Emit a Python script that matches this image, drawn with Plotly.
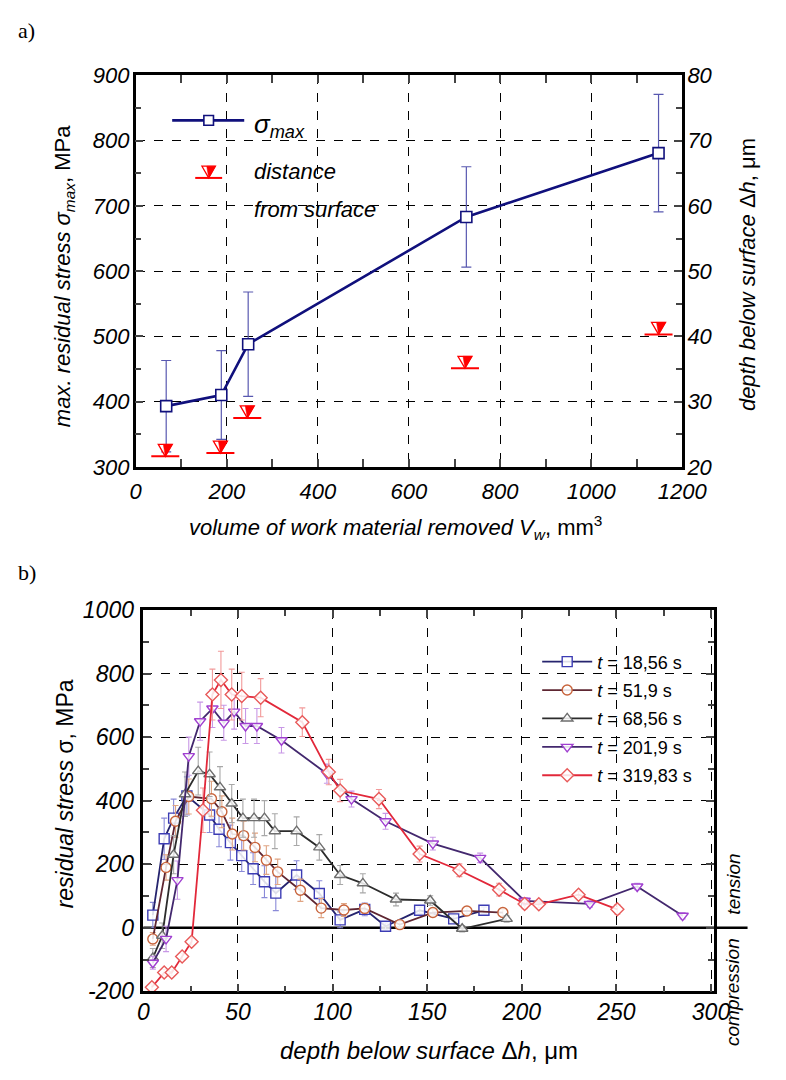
import plotly.graph_objects as go

# ---------------- data : panel a ----------------
vol_removed = [67, 188, 247, 726, 1148]
sigma_max = [393, 410, 488, 683, 781]
sigma_err = [70, 68, 80, 77, 90]
vol_depth = [65, 186, 245, 723, 1148]
depth_max = [21.6, 22.1, 27.5, 35.1, 40.3]
ticks_a_x = [0, 200, 400, 600, 800, 1000, 1200]
ticks_a_y = [300, 400, 500, 600, 700, 800, 900]
ticks_a_y2 = [20, 30, 40, 50, 60, 70, 80]

# ---------------- data : panel b ----------------
labels_b = ["18,56 s", "51,9 s", "68,56 s", "201,9 s", "319,83 s"]
depth_1 = [5, 11, 16, 23, 35, 40, 46, 52, 58, 64, 70, 81, 93, 104, 117, 128, 146, 164, 180]
stress_1 = [40, 280, 345, 415, 355, 310, 268, 227, 186, 145, 109, 166, 108, 25, 58, 5, 55, 28, 55]
err_1 = [40, 65, 60, 60, 55, 55, 55, 50, 50, 50, 55, 45, 40, 25, 20, 10, 10, 10, 10]

depth_2 = [5, 12, 17, 24, 36, 41.5, 47, 53, 59, 65, 71, 83, 94, 106, 117, 135.5, 153, 171, 190]
stress_2 = [-35, 190, 335, 413, 406, 365, 295, 290, 253, 213, 176, 118, 62, 56, 61, 10, 48, 53, 48]
err_2 = [20, 40, 50, 55, 55, 50, 50, 45, 45, 45, 40, 35, 30, 20, 15, 10, 10, 10, 10]

depth_3 = [5, 10, 16, 22, 29, 35, 40.5, 46.7, 52.6, 58.5, 64, 69.5, 81, 93, 104, 116, 133.5, 151.6, 168.5, 192]
stress_3 = [-95, -25, 230, 420, 493, 483, 442, 391, 345, 345, 345, 304, 304, 253, 166, 140, 89, 86, -3, 28]
err_3 = [30, 40, 60, 70, 75, 70, 65, 60, 60, 60, 55, 55, 45, 40, 30, 30, 20, 15, 10, 10]

depth_4 = [5, 12, 18, 24, 30, 36.5, 42.5, 48, 54, 60, 73, 97, 110, 128, 153, 178, 201.5, 236, 261, 285]
stress_4 = [-110, -35, 150, 540, 650, 690, 645, 680, 635, 635, 590, 485, 405, 335, 265, 220, 85, 75, 130, 38]
err_4 = [20, 40, 60, 60, 60, 60, 55, 55, 55, 55, 40, 30, 25, 25, 20, 15, 10, 10, 10, 10]

depth_5 = [4.5, 11, 15, 20.5, 25.5, 31.5, 36.5, 41, 46.7, 52, 62, 84, 98, 104, 124.5, 146, 167, 188, 201.5, 209, 230, 250.5]
stress_5 = [-187, -141, -141, -90, -44, 370, 734, 780, 734, 729, 724, 647, 490, 432, 405, 232, 181, 120, 75, 74, 104, 58]
err_5 = [10, 10, 10, 10, 10, 70, 80, 90, 80, 75, 60, 45, 40, 35, 30, 25, 20, 20, 15, 10, 10, 15]

ticks_b_x = [0, 50, 100, 150, 200, 250, 300]
ticks_b_y = [-200, 0, 200, 400, 600, 800, 1000]
ticktext_b_y = ["-200", "0", "200", "400", "600", "800", "1000"]

depths_b = [depth_1, depth_2, depth_3, depth_4, depth_5]
stresses_b = [stress_1, stress_2, stress_3, stress_4, stress_5]
errs_b = [err_1, err_2, err_3, err_4, err_5]

# ---------------- styling ----------------
W, H = 786, 1080
FONT = "Liberation Sans, Arial, sans-serif"
SERIF = "Liberation Serif, Times New Roman, serif"


def px(x):
    return x / W


def py(y):
    return 1 - y / H


symbols_b = ["square", "circle", "triangle-up", "triangle-down", "diamond"]
line_cols = ["#26246e", "#5e2632", "#2c2c2c", "#43286e", "#e2283a"]
mark_cols = ["#3c3cb4", "#c8643c", "#6e6e6e", "#a040d0", "#e85a5a"]
err_cols = ["#8a8ad8", "#e0a482", "#a8a8a8", "#c898e6", "#f29a9a"]

fig = go.Figure()

fig.add_trace(go.Scatter(
    x=vol_removed, y=sigma_max, mode="lines+markers",
    line=dict(color="#10107c", width=2.6),
    marker=dict(symbol="square", size=11, color="white", line=dict(color="#10107c", width=1.6)),
    error_y=dict(type="data", array=sigma_err, color="#5858b0", thickness=1.2, width=5),
    xaxis="x", yaxis="y", showlegend=False))
fig.add_trace(go.Scatter(x=vol_depth, y=depth_max, mode="markers",
                         marker=dict(size=1, color="rgba(0,0,0,0)"),
                         xaxis="x", yaxis="y2", showlegend=False, hoverinfo="skip"))

for i in range(5):
    fig.add_trace(go.Scatter(
        x=depths_b[i], y=stresses_b[i], mode="lines+markers",
        name="<i>t</i> = " + labels_b[i], legendgroup=str(i),
        line=dict(color=line_cols[i], width=1.8),
        marker=dict(symbol=symbols_b[i], size=10, color="rgba(255,255,255,0.85)",
                    line=dict(color=mark_cols[i], width=1.4)),
        error_y=dict(type="data", array=errs_b[i], color=err_cols[i], thickness=1.1, width=3),
        xaxis="x2", yaxis="y3"))

shapes = []
# depth markers: half-filled inverted triangle standing on a short line, anchored at the data point
for xv, yv in zip(vol_depth, depth_max):
    common = dict(xref="x", yref="y2", xsizemode="pixel", ysizemode="pixel",
                  xanchor=xv, yanchor=yv, layer="above")
    shapes.append(dict(type="path", path="M-7,12 L7,12 L0,0 Z", fillcolor="white",
                       line=dict(color="#ff0000", width=1.3), **common))
    shapes.append(dict(type="path", path="M-2,12 L7,12 L0,0 Z", fillcolor="#ff0000",
                       line=dict(color="#ff0000", width=0.5), **common))
    shapes.append(dict(type="line", x0=-14, x1=14, y0=0, y1=0,
                       line=dict(color="#ff0000", width=2), **common))

# panel a legend symbols
shapes.append(dict(type="line", xref="paper", yref="paper", x0=px(173), x1=px(248), y0=py(110), y1=py(110),
                   line=dict(color="#10107c", width=2.6)))
shapes.append(dict(type="rect", xref="paper", yref="paper", x0=px(206), x1=px(216), y0=py(105), y1=py(115),
                   fillcolor="white", line=dict(color="#10107c", width=1.6)))
shapes.append(dict(type="path", xref="paper", yref="paper",
                   path=f"M{px(204)},{py(157)} L{px(218)},{py(157)} L{px(211)},{py(169)} Z",
                   fillcolor="white", line=dict(color="#ff0000", width=1.3)))
shapes.append(dict(type="path", xref="paper", yref="paper",
                   path=f"M{px(209)},{py(157)} L{px(218)},{py(157)} L{px(211)},{py(169)} Z",
                   fillcolor="#ff0000", line=dict(color="#ff0000", width=0.5)))
shapes.append(dict(type="line", xref="paper", yref="paper", x0=px(197), x1=px(225), y0=py(169), y1=py(169),
                   line=dict(color="#ff0000", width=2)))

# panel b zero line extending beyond the right axis (tension / compression divider)
shapes.append(dict(type="line", xref="paper", yref="y3", x0=px(143), x1=px(772), y0=0, y1=0,
                   line=dict(color="black", width=2.4), layer="below"))

ann = []


def text(x, y, s, size=22, angle=0, family=FONT, xanchor="center"):
    ann.append(dict(xref="paper", yref="paper", x=px(x), y=py(y), text=s, showarrow=False,
                    textangle=angle, xanchor=xanchor, yanchor="middle",
                    font=dict(family=family, size=size, color="black")))


text(10, 18, "a)", size=22, family=SERIF, xanchor="left")
text(10, 573, "b)", size=22, family=SERIF, xanchor="left")
text(256, 115, "<i>σ<sub>max</sub></i>", size=26, xanchor="left")
text(256, 162, "<i>distance</i>", size=22, xanchor="left")
text(256, 201, "<i>from surface</i>", size=22, xanchor="left")
text(60, 270, "<i>max. residual stress σ<sub>max</sub></i>, MPa", size=22, angle=-90)
text(772, 268, "<i>depth below surface</i> Δ<i>h</i>, μm", size=22, angle=-90)
text(405, 527, "<i>volume of work material removed V<sub>w</sub></i>, mm<sup>3</sup>", size=22)
text(61, 800, "<i>residual stress</i> σ, MPa", size=23, angle=-90)
text(440, 1063, "<i>depth below surface</i> Δ<i>h</i>, μm", size=24)
text(757, 893, "<i>tension</i>", size=19, angle=-90)
text(757, 1003, "<i>compression</i>", size=19, angle=-90)

tickfont = dict(family=FONT, size=22, color="black", style="italic")
tickfont_b = dict(family=FONT, size=23, color="black", style="italic")
grid = dict(showgrid=True, gridcolor="black", gridwidth=1.1, griddash="dash")

fig.update_layout(
    width=W, height=H, margin=dict(l=0, r=0, t=0, b=0),
    paper_bgcolor="white", plot_bgcolor="white",
    shapes=shapes, annotations=ann,
    xaxis=dict(domain=[px(135), px(704)], range=[0, 1200], anchor="y",
               tickvals=ticks_a_x, ticks="inside", ticklen=8, tickwidth=1.5,
               minor=dict(dtick=100, ticks="inside", ticklen=6, tickwidth=1.5, showgrid=False),
               showline=True, linecolor="black", linewidth=2.5, mirror="allticks",
               tickfont=tickfont, zeroline=False, ticklabelstandoff=3, **grid),
    yaxis=dict(domain=[py(465), py(64)], range=[300, 900], anchor="x",
               tickvals=ticks_a_y, ticks="inside", ticklen=8, tickwidth=1.5,
               minor=dict(dtick=50, ticks="inside", ticklen=6, tickwidth=1.5, showgrid=False),
               showline=True, linecolor="black", linewidth=2.5,
               tickfont=tickfont, zeroline=False, ticklabelstandoff=-1, **grid),
    yaxis2=dict(overlaying="y", side="right", range=[20, 80], anchor="x",
                tickvals=ticks_a_y2, ticks="inside", ticklen=8, tickwidth=1.5,
                minor=dict(dtick=5, ticks="inside", ticklen=6, tickwidth=1.5),
                showline=True, linecolor="black", linewidth=2.5, showgrid=False,
                tickfont=tickfont, zeroline=False, ticklabelstandoff=-2),
    xaxis2=dict(domain=[px(143), px(736.7)], range=[0, 301.4], anchor="y3",
                tickvals=ticks_b_x, ticks="inside", ticklen=8, tickwidth=1.5,
                minor=dict(dtick=25, ticks="inside", ticklen=6, tickwidth=1.5, showgrid=False),
                showline=True, linecolor="black", linewidth=2.5, mirror="allticks",
                tickfont=tickfont_b, zeroline=False, ticklabelstandoff=-2, **grid),
    yaxis3=dict(domain=[py(1002.5), py(611.7)], range=[-200, 1000], anchor="x2",
                tickvals=ticks_b_y, ticktext=ticktext_b_y, ticks="inside", ticklen=8, tickwidth=1.5,
                minor=dict(dtick=100, ticks="inside", ticklen=6, tickwidth=1.5, showgrid=False),
                showline=True, linecolor="black", linewidth=2.5, mirror="allticks",
                tickfont=tickfont_b, zeroline=False, ticklabelstandoff=2, **grid),
    legend=dict(x=px(553), y=py(646), xanchor="left", yanchor="top",
                bgcolor="rgba(255,255,255,0)", borderwidth=0, itemwidth=50,
                font=dict(family=FONT, size=18, color="black"), tracegroupgap=2),
    showlegend=True,
)

fig.write_html("out.html", config={"displayModeBar": False},
               post_script="document.body.style.margin='0';document.body.style.padding='0';"
                           "document.documentElement.style.overflow='hidden';")
